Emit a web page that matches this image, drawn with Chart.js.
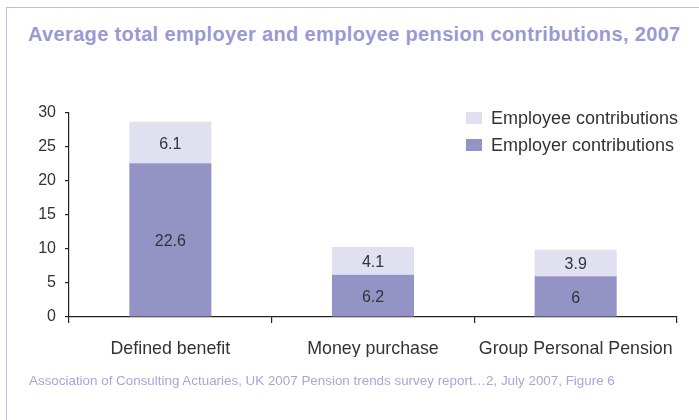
<!DOCTYPE html>
<html>
<head>
<meta charset="utf-8">
<script src="https://cdn.jsdelivr.net/npm/chart.js@4"></script>
<style>
  body { margin: 0; background: #fff; font-family: "Liberation Sans", Arial, sans-serif; }
  #wrap { position: relative; width: 699px; height: 420px; overflow: hidden; }
  #frame { position: absolute; left: 6px; top: 7px; right: -10px; bottom: -10px;
           border-top: 1.5px solid #bcbce4; border-left: 1.5px solid #bcbce4; }
  #title { position: absolute; left: 28px; top: 23px; font-size: 20px; font-weight: bold;
           color: #9a9ad2; white-space: nowrap; letter-spacing: 0.35px; }
  #source { position: absolute; left: 29px; top: 373px; font-size: 13.4px; color: #a6a6dc; white-space: nowrap; }
  #box { position: absolute; left: 0; top: 0; width: 699px; height: 420px; }
</style>
</head>
<body>
<div id="wrap">
  <div id="frame"></div>
  <div id="title">Average total employer and employee pension contributions, 2007</div>
  <div id="box"><canvas id="bar"></canvas></div>
  <div id="source">Association of Consulting Actuaries, UK 2007 Pension trends survey report…2, July 2007, Figure 6</div>
</div>
<script>
// data
const categories = ["Defined benefit", "Money purchase", "Group Personal Pension"];
const employer = [22.6, 6.2, 6];
const employee = [6.1, 4.1, 3.9];
const yTicks = [0, 5, 10, 15, 20, 25, 30];

const textColor = "#333333";
const fontFamily = "'Liberation Sans', Arial, sans-serif";

// value labels in the middle of each segment
const barLabels = {
  id: "barLabels",
  afterDatasetsDraw(chart) {
    const ctx = chart.ctx;
    ctx.save();
    ctx.font = "16px " + fontFamily;
    ctx.fillStyle = textColor;
    ctx.textAlign = "center";
    ctx.textBaseline = "middle";
    chart.data.datasets.forEach((ds, i) => {
      chart.getDatasetMeta(i).data.forEach((bar, j) => {
        const mid = (bar.y + bar.base) / 2 + 2;
        ctx.fillText(String(ds.data[j]), bar.x, mid);
      });
    });
    ctx.restore();
  }
};

// legend drawn inside the plot, top right
const cornerLegend = {
  id: "cornerLegend",
  afterDraw(chart) {
    const ctx = chart.ctx;
    const items = chart.data.datasets.slice().reverse();
    const x = 466, y0 = 118, step = 27;
    ctx.save();
    ctx.font = "18px " + fontFamily;
    ctx.textBaseline = "middle";
    ctx.textAlign = "left";
    items.forEach((ds, i) => {
      const y = y0 + i * step;
      ctx.fillStyle = ds.backgroundColor;
      ctx.fillRect(x, y - 6, 16, 12);
      ctx.fillStyle = textColor;
      ctx.fillText(ds.label, x + 25, y + 1);
    });
    ctx.restore();
  }
};

new Chart(document.getElementById("bar"), {
  type: "bar",
  data: {
    labels: categories,
    datasets: [
      {
        label: "Employer contributions",
        data: employer,
        backgroundColor: "#9393c5",
        categoryPercentage: 1,
        barPercentage: 0.405
      },
      {
        label: "Employee contributions",
        data: employee,
        backgroundColor: "#e0e0f0",
        categoryPercentage: 1,
        barPercentage: 0.405
      }
    ]
  },
  options: {
    responsive: true,
    maintainAspectRatio: false,
    animation: false,
    layout: { padding: { top: 113, right: 22, bottom: 63, left: 0 } },
    plugins: {
      legend: { display: false },
      tooltip: { enabled: false }
    },
    scales: {
      x: {
        stacked: true,
        grid: { display: true, drawOnChartArea: false, offset: true, tickLength: 6, color: "#222", lineWidth: 1.2 },
        border: { display: true, color: "#222", width: 1.2 },
        ticks: { color: textColor, font: { size: 17.8, family: fontFamily }, padding: 15 },
        afterFit(s) { s.height = 40; }
      },
      y: {
        stacked: true,
        min: 0,
        max: 30,
        afterBuildTicks(s) { s.ticks = yTicks.map(v => ({ value: v })); },
        grid: { display: true, drawOnChartArea: false, tickLength: 4, color: "#222", lineWidth: 1.2 },
        border: { display: true, color: "#222", width: 1.2 },
        ticks: { color: textColor, font: { size: 16, family: fontFamily }, padding: 9 },
        afterFit(s) { s.width = 69; }
      }
    }
  },
  plugins: [barLabels, cornerLegend]
});
</script>
</body>
</html>
